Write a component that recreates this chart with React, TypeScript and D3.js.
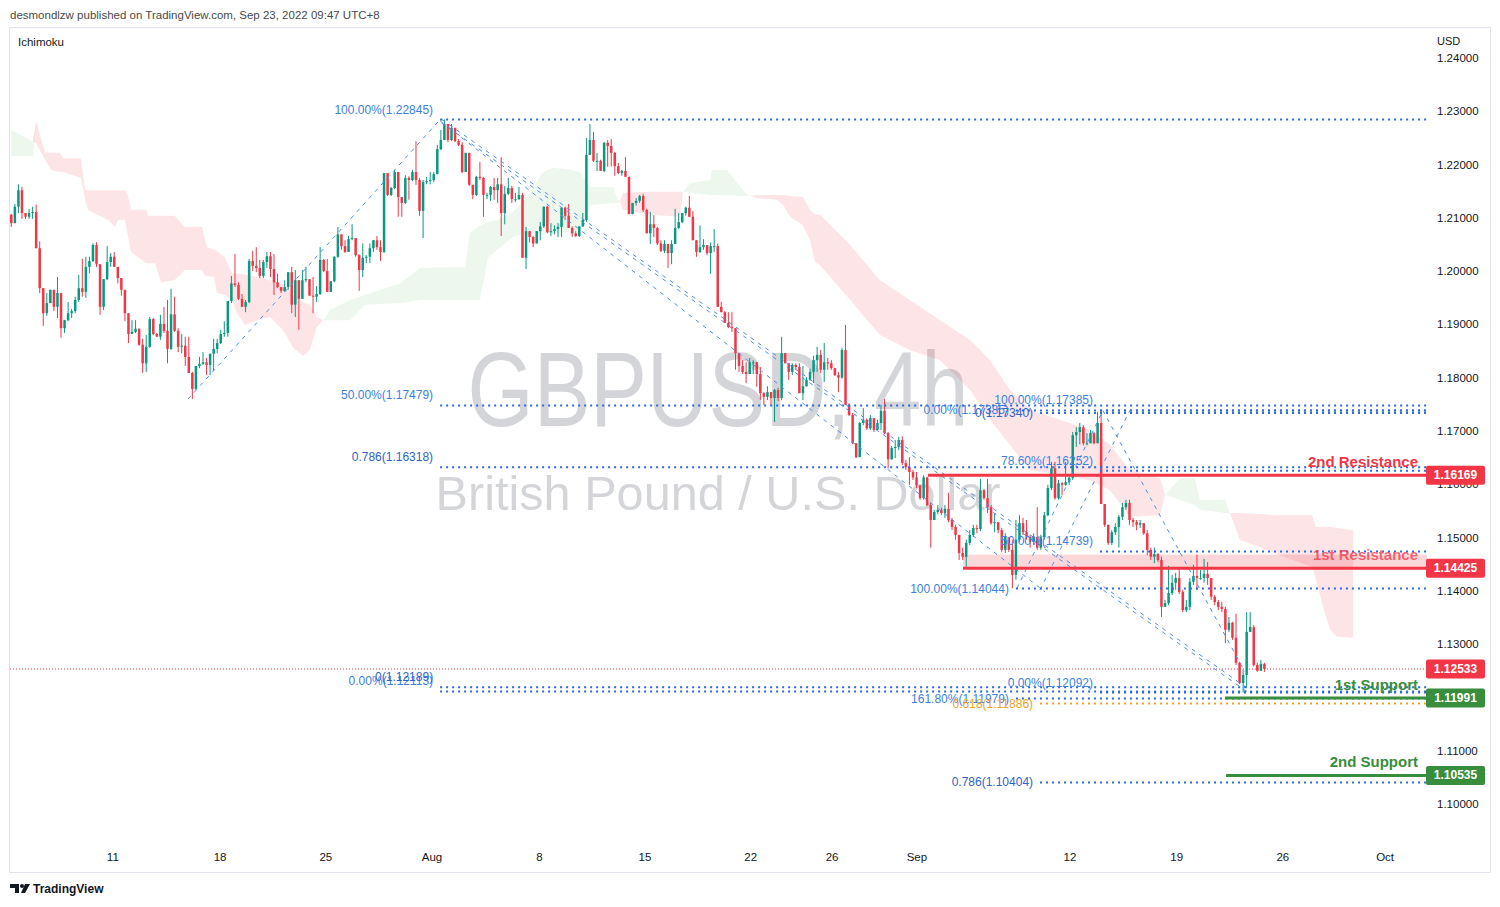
import React from "react";
import * as d3 from "d3";

// ---------- DATA (GBPUSD 4h) ----------
const firstOpen = 1.2106;
const closes = [
  1.2090, 1.2121, 1.2152, 1.2109, 1.2102, 1.2109, 1.2111, 1.2043, 1.1968, 1.1921,
  1.1940, 1.1965, 1.1933, 1.1959, 1.1893, 1.1908, 1.1921, 1.1925, 1.1946, 1.1968,
  1.1961, 1.2008, 1.2019, 1.2049, 1.2013, 1.1933, 1.1985, 1.2017, 1.2027, 1.2008,
  1.1987, 1.1965, 1.1921, 1.1882, 1.1886, 1.1892, 1.1862, 1.1827, 1.1858, 1.1910,
  1.1882, 1.1877, 1.1901, 1.1888, 1.1854, 1.1919, 1.1888, 1.1858, 1.1860, 1.1839,
  1.1809, 1.1779, 1.1822, 1.1826, 1.1829, 1.1824, 1.1845, 1.1854, 1.1865, 1.1882,
  1.1884, 1.1944, 1.1977, 1.1974, 1.1948, 1.1933, 1.1942, 1.2019, 1.2010, 1.2006,
  1.1991, 1.2017, 1.2028, 1.2004, 1.1979, 1.1970, 1.1963, 1.1970, 1.1998, 1.1937,
  1.1983, 1.1948, 1.1983, 1.1985, 1.1954, 1.1952, 1.1957, 1.2021, 1.2000, 1.1961,
  1.1981, 1.2027, 1.2069, 1.2047, 1.2036, 1.2060, 1.2062, 1.2030, 1.2002, 1.2025,
  1.2027, 1.2043, 1.2058, 1.2045, 1.2036, 1.2184, 1.2143, 1.2156, 1.2186, 1.2139,
  1.2128, 1.2175, 1.2171, 1.2186, 1.2171, 1.2113, 1.2167, 1.2169, 1.2171, 1.2182,
  1.2229, 1.2246, 1.2276, 1.2246, 1.2269, 1.2244, 1.2237, 1.2186, 1.2222, 1.2162,
  1.2143, 1.2177, 1.2175, 1.2143, 1.2143, 1.2158, 1.2152, 1.2163, 1.2109, 1.2145,
  1.2156, 1.2135, 1.2135, 1.2143, 1.2025, 1.2075, 1.2064, 1.2052, 1.2075, 1.2084,
  1.2121, 1.2073, 1.2075, 1.2079, 1.2083, 1.2119, 1.2104, 1.2081, 1.2071, 1.2066,
  1.2084, 1.2096, 1.2218, 1.2246, 1.2207, 1.2207, 1.2188, 1.2241, 1.2235, 1.2222,
  1.2197, 1.2184, 1.2188, 1.2177, 1.2107, 1.2128, 1.2132, 1.2141, 1.2115, 1.2071,
  1.2088, 1.2081, 1.2052, 1.2038, 1.2051, 1.2034, 1.2051, 1.2081, 1.2092, 1.2109,
  1.2119, 1.2102, 1.2058, 1.2036, 1.2045, 1.2049, 1.2034, 1.2047, 1.2047, 1.1933,
  1.1923, 1.1903, 1.1895, 1.1893, 1.1846, 1.1822, 1.1811, 1.1807, 1.1829, 1.1829,
  1.1807, 1.1771, 1.1764, 1.1773, 1.1762, 1.1777, 1.1762, 1.1846, 1.1827, 1.1811,
  1.1824, 1.1820, 1.1771, 1.1784, 1.1796, 1.1811, 1.1833, 1.1843, 1.1815, 1.1829,
  1.1827, 1.1818, 1.1805, 1.1800, 1.1852, 1.1749, 1.1730, 1.1677, 1.1651, 1.1715,
  1.1721, 1.1705, 1.1724, 1.1702, 1.1715, 1.1738, 1.1696, 1.1647, 1.1668, 1.1670,
  1.1683, 1.1640, 1.1632, 1.1623, 1.1613, 1.1598, 1.1574, 1.1613, 1.1561, 1.1533,
  1.1548, 1.1552, 1.1546, 1.1554, 1.1533, 1.1520, 1.1505, 1.1471, 1.1464, 1.1490,
  1.1505, 1.1518, 1.1516, 1.1589, 1.1574, 1.1557, 1.1527, 1.1529, 1.1514, 1.1477,
  1.1501, 1.1477, 1.1430, 1.1496, 1.1527, 1.1510, 1.1501, 1.1492, 1.1501, 1.1481,
  1.1501, 1.1542, 1.1593, 1.1630, 1.1574, 1.1602, 1.1599, 1.1604, 1.1612, 1.1692,
  1.1698, 1.1707, 1.1677, 1.1677, 1.1696, 1.1677, 1.1715, 1.1563, 1.1524, 1.1490,
  1.1510, 1.1520, 1.1539, 1.1557, 1.1565, 1.1533, 1.1529, 1.1524, 1.1527, 1.1508,
  1.1477, 1.1464, 1.1469, 1.1458, 1.1370, 1.1377, 1.1396, 1.1415, 1.1424, 1.1398,
  1.1364, 1.1370, 1.1417, 1.1428, 1.1424, 1.1424, 1.1432, 1.1424, 1.1389, 1.1379,
  1.1370, 1.1366, 1.1327, 1.1340, 1.1312, 1.1265, 1.1227, 1.1242, 1.1323, 1.1332,
  1.1261, 1.1250, 1.1263, 1.12533,
];
const highs = [
  1.2107, 1.2126, 1.2163, 1.2158, 1.2109, 1.2117, 1.2121, 1.2125, 1.2056, 1.1968,
  1.1959, 1.1965, 1.1965, 1.1989, 1.1959, 1.1908, 1.1942, 1.1929, 1.1952, 1.1993,
  1.2023, 1.2027, 1.2027, 1.2052, 1.2054, 1.2013, 1.1985, 1.2047, 1.2034, 1.2036,
  1.2008, 1.1987, 1.1965, 1.1921, 1.1908, 1.1908, 1.1892, 1.1873, 1.1880, 1.1914,
  1.1912, 1.1884, 1.1918, 1.1933, 1.1946, 1.1967, 1.1952, 1.1893, 1.1882, 1.1877,
  1.1877, 1.1811, 1.1822, 1.1839, 1.1848, 1.1837, 1.1845, 1.1873, 1.1873, 1.1890,
  1.1906, 1.1944, 1.1991, 1.2032, 1.1979, 1.1957, 1.1946, 1.2023, 1.2038, 1.2045,
  1.2021, 1.2021, 1.2036, 1.2036, 1.2032, 1.1995, 1.1970, 1.1983, 1.1998, 1.2008,
  1.2002, 1.1983, 1.2002, 1.2008, 1.1985, 1.1989, 1.1972, 1.2045, 1.2023, 1.2023,
  1.1981, 1.2028, 1.2083, 1.2069, 1.2058, 1.2066, 1.2088, 1.2062, 1.2032, 1.2052,
  1.2030, 1.2052, 1.2058, 1.2066, 1.2058, 1.2184, 1.2184, 1.2158, 1.2190, 1.2186,
  1.2139, 1.2180, 1.2178, 1.2190, 1.2244, 1.2175, 1.2171, 1.2177, 1.2186, 1.2186,
  1.2237, 1.2265, 1.22845, 1.2276, 1.2276, 1.2269, 1.2248, 1.2242, 1.2222, 1.2222,
  1.2162, 1.2179, 1.2205, 1.2177, 1.2147, 1.2160, 1.2175, 1.2175, 1.2214, 1.2160,
  1.2175, 1.2160, 1.2147, 1.2158, 1.2147, 1.2083, 1.2075, 1.2066, 1.2075, 1.2092,
  1.2121, 1.2123, 1.2090, 1.2086, 1.2090, 1.2119, 1.2121, 1.2126, 1.2084, 1.2075,
  1.2084, 1.2109, 1.2250, 1.2276, 1.2261, 1.2222, 1.2209, 1.2242, 1.2246, 1.2248,
  1.2224, 1.2203, 1.2190, 1.2214, 1.2177, 1.2128, 1.2137, 1.2143, 1.2145, 1.2117,
  1.2111, 1.2105, 1.2083, 1.2058, 1.2058, 1.2051, 1.2058, 1.2117, 1.2109, 1.2109,
  1.2121, 1.2141, 1.2113, 1.2058, 1.2086, 1.2060, 1.2047, 1.2054, 1.2079, 1.2052,
  1.1942, 1.1925, 1.1923, 1.1923, 1.1893, 1.1846, 1.1833, 1.1829, 1.1837, 1.1833,
  1.1820, 1.1820, 1.1773, 1.1784, 1.1773, 1.1779, 1.1781, 1.1877, 1.1846, 1.1827,
  1.1827, 1.1827, 1.1827, 1.1822, 1.1801, 1.1817, 1.1841, 1.1858, 1.1852, 1.1865,
  1.1837, 1.1833, 1.1818, 1.1811, 1.1856, 1.1899, 1.1752, 1.1734, 1.1677, 1.1717,
  1.1743, 1.1724, 1.1730, 1.1721, 1.1721, 1.1749, 1.1760, 1.1698, 1.1672, 1.1683,
  1.1689, 1.1690, 1.1646, 1.1651, 1.1627, 1.1623, 1.1589, 1.1617, 1.1598, 1.1565,
  1.1552, 1.1561, 1.1556, 1.1561, 1.1584, 1.1537, 1.1524, 1.1496, 1.1481, 1.1496,
  1.1514, 1.1524, 1.1524, 1.1610, 1.1591, 1.1610, 1.1561, 1.1546, 1.1529, 1.1518,
  1.1508, 1.1501, 1.1496, 1.1533, 1.1542, 1.1537, 1.1533, 1.1505, 1.1508, 1.1557,
  1.1505, 1.1548, 1.1599, 1.1642, 1.1642, 1.1608, 1.1604, 1.1642, 1.1617, 1.1698,
  1.1707, 1.1715, 1.1711, 1.1696, 1.1702, 1.1698, 1.1736, 1.17385, 1.1559, 1.1524,
  1.1514, 1.1527, 1.1542, 1.1565, 1.1571, 1.1571, 1.1537, 1.1533, 1.1533, 1.1527,
  1.1514, 1.1481, 1.1481, 1.1471, 1.1464, 1.1383, 1.1447, 1.1430, 1.1434, 1.1445,
  1.1402, 1.1383, 1.1424, 1.1449, 1.1468, 1.1439, 1.1460, 1.1454, 1.1415, 1.1392,
  1.1383, 1.1379, 1.1370, 1.1351, 1.1342, 1.1357, 1.1267, 1.1252, 1.1360, 1.1360,
  1.1336, 1.1265, 1.1270, 1.1265,
];
const lows = [
  1.2083, 1.2090, 1.2109, 1.2098, 1.2098, 1.2098, 1.2098, 1.2043, 1.1959, 1.1897,
  1.1916, 1.1940, 1.1925, 1.1912, 1.1875, 1.1884, 1.1906, 1.1912, 1.1921, 1.1942,
  1.1952, 1.1950, 1.1996, 1.2017, 1.2008, 1.1918, 1.1927, 1.1983, 1.2008, 1.2008,
  1.1977, 1.1954, 1.1906, 1.1865, 1.1882, 1.1884, 1.1860, 1.1809, 1.1811, 1.1856,
  1.1880, 1.1877, 1.1871, 1.1884, 1.1827, 1.1852, 1.1886, 1.1848, 1.1846, 1.1822,
  1.1809, 1.1760, 1.1777, 1.1818, 1.1824, 1.1805, 1.1805, 1.1813, 1.1846, 1.1863,
  1.1877, 1.1877, 1.1940, 1.1970, 1.1946, 1.1933, 1.1923, 1.1940, 1.2000, 1.1998,
  1.1987, 1.1987, 1.2006, 1.1989, 1.1955, 1.1968, 1.1959, 1.1961, 1.1965, 1.1921,
  1.1914, 1.1890, 1.1948, 1.1979, 1.1954, 1.1921, 1.1942, 1.1955, 1.1998, 1.1961,
  1.1961, 1.1979, 1.2025, 1.2040, 1.2034, 1.2045, 1.2058, 1.2027, 1.1963, 1.1989,
  1.2015, 1.2015, 1.2036, 1.2040, 1.2019, 1.2034, 1.2141, 1.2141, 1.2154, 1.2102,
  1.2102, 1.2126, 1.2134, 1.2169, 1.2162, 1.2104, 1.2062, 1.2163, 1.2163, 1.2167,
  1.2182, 1.2227, 1.2246, 1.2242, 1.2244, 1.2242, 1.2235, 1.2184, 1.2186, 1.2160,
  1.2135, 1.2141, 1.2171, 1.2102, 1.2135, 1.2132, 1.2134, 1.2128, 1.2066, 1.2088,
  1.2143, 1.2128, 1.2130, 1.2134, 1.2025, 1.2004, 1.2054, 1.2045, 1.2052, 1.2058,
  1.2081, 1.2071, 1.2066, 1.2069, 1.2064, 1.2064, 1.2096, 1.2081, 1.2064, 1.2064,
  1.2064, 1.2083, 1.2092, 1.2218, 1.2205, 1.2188, 1.2188, 1.2186, 1.2196, 1.2196,
  1.2179, 1.2182, 1.2179, 1.2177, 1.2107, 1.2107, 1.2123, 1.2128, 1.2111, 1.2071,
  1.2051, 1.2064, 1.2049, 1.2036, 1.2034, 1.2006, 1.2013, 1.2051, 1.2079, 1.2090,
  1.2104, 1.2102, 1.2058, 1.2027, 1.2034, 1.2040, 1.2030, 1.1995, 1.2036, 1.1933,
  1.1923, 1.1903, 1.1893, 1.1886, 1.1815, 1.1811, 1.1807, 1.1790, 1.1807, 1.1807,
  1.1783, 1.1758, 1.1749, 1.1758, 1.1749, 1.1717, 1.1756, 1.1758, 1.1827, 1.1796,
  1.1805, 1.1815, 1.1771, 1.1758, 1.1783, 1.1794, 1.1790, 1.1811, 1.1809, 1.1792,
  1.1815, 1.1815, 1.1803, 1.1773, 1.1798, 1.1749, 1.1728, 1.1675, 1.1649, 1.1656,
  1.1711, 1.1702, 1.1702, 1.1698, 1.1702, 1.1702, 1.1694, 1.1630, 1.1646, 1.1649,
  1.1664, 1.1636, 1.1627, 1.1599, 1.1608, 1.1593, 1.1571, 1.1571, 1.1559, 1.1481,
  1.1533, 1.1544, 1.1542, 1.1537, 1.1529, 1.1514, 1.1496, 1.1458, 1.1458, 1.1445,
  1.1486, 1.1501, 1.1508, 1.1512, 1.1571, 1.1546, 1.1524, 1.1510, 1.1508, 1.1473,
  1.1471, 1.1473, 1.1405, 1.1421, 1.1492, 1.1505, 1.1496, 1.1481, 1.1486, 1.1477,
  1.1477, 1.1496, 1.1540, 1.1589, 1.1571, 1.1571, 1.1580, 1.1597, 1.1599, 1.1608,
  1.1670, 1.1675, 1.1673, 1.1673, 1.1677, 1.1675, 1.1677, 1.1563, 1.1520, 1.1486,
  1.1486, 1.1505, 1.1481, 1.1533, 1.1552, 1.1524, 1.1520, 1.1514, 1.1518, 1.1505,
  1.1467, 1.1458, 1.1452, 1.1454, 1.1351, 1.1370, 1.1373, 1.1392, 1.1402, 1.1394,
  1.1360, 1.1360, 1.1364, 1.1411, 1.1402, 1.1421, 1.1415, 1.1411, 1.1383, 1.1373,
  1.1364, 1.1360, 1.1302, 1.1323, 1.1308, 1.1261, 1.1225, 1.12092, 1.1218, 1.1323,
  1.1258, 1.1248, 1.1250, 1.1248,
];

// Ichimoku cloud (Senkou span A / B), sampled at bar indices
const cloudIdx = [
  0, 6.1, 7.0, 9.5, 11.2, 13.7, 14.6, 19.6, 20.8, 21.6, 25.3, 27.3, 29.2, 30.1, 32.0, 32.9, 33.7,
  38.0, 38.5, 40.5, 42.2, 46.0, 48.9, 53.7, 54.3, 55.1, 57.1, 57.9, 60.2, 62.2, 63.6, 65.8, 69.2,
  72.9, 75.7, 77.1, 79.4, 82.2, 84.1, 86.1, 87.8, 89.8, 95.4, 99.6, 109.5, 115.1, 127.8, 129.2,
  132.0, 134.3, 136.8, 141.3, 145.3, 149.8, 152.6, 158.2, 160.2, 163.0, 169.5, 170.9, 171.5, 172.3,
  179.9, 188.4, 189.2, 191.2, 196.8, 197.4, 201.6, 206.7, 208.1, 210.1, 215.7, 217.4, 219.4, 223.0,
  225.0, 226.4, 227.8, 236.3, 244.7, 253.1, 261.6, 270.1, 275.7, 281.3, 286.9, 295.4, 303.8, 309.5,
  315.1, 323.6, 325.0, 329.2, 333.4, 334.8, 341.9, 343.3, 346.1, 357.4, 366.4, 367.5, 369.5, 371.5,
  373.4, 378.0,
];
const spanA = [
  1.2265, 1.2244, 1.2240, 1.2209, 1.2190, 1.2186, 1.2186, 1.2175, 1.2134, 1.2115, 1.2102, 1.2096,
  1.2083, 1.2096, 1.2096, 1.2064, 1.2036, 1.2015, 1.2015, 1.2015, 1.1979, 1.1983, 1.2002, 1.2002,
  1.1993, 1.1991, 1.1989, 1.1959, 1.1955, 1.1946, 1.1921, 1.1899, 1.1908, 1.1914, 1.1895, 1.1884,
  1.1856, 1.1841, 1.1852, 1.1895, 1.1908, 1.1927, 1.1946, 1.1955, 1.1977, 1.2006, 1.2008, 1.2071,
  1.2086, 1.2092, 1.2096, 1.2111, 1.2139, 1.2186, 1.2194, 1.2190, 1.2186, 1.2158, 1.2158, 1.2134,
  1.2130, 1.2115, 1.2106, 1.2102, 1.2149, 1.2165, 1.2171, 1.2190, 1.2190, 1.2147, 1.2141, 1.2137,
  1.2134, 1.2124, 1.2102, 1.2086, 1.2058, 1.2017, 1.2011, 1.1946, 1.1880, 1.1852, 1.1833, 1.1777,
  1.1721, 1.1674, 1.1627, 1.1618, 1.1608, 1.1589, 1.1539, 1.1542, 1.1580, 1.1612, 1.1612, 1.1571,
  1.1571, 1.1546, 1.1496, 1.1467, 1.1445, 1.1421, 1.1370, 1.1327, 1.1314, 1.1312,
];
const spanB = [
  1.2216, 1.2216, 1.2282, 1.2223, 1.2222, 1.2222, 1.2212, 1.2212, 1.2152, 1.2152, 1.2152, 1.2152,
  1.2152, 1.2152, 1.2152, 1.2141, 1.2115, 1.2115, 1.2104, 1.2104, 1.2104, 1.2104, 1.2083, 1.2083,
  1.2068, 1.2045, 1.2040, 1.2038, 1.2025, 1.1996, 1.1995, 1.1993, 1.1989, 1.1983, 1.1979, 1.1974,
  1.1955, 1.1942, 1.1937, 1.1914, 1.1908, 1.1908, 1.1908, 1.1937, 1.1940, 1.1946, 1.1946, 1.1946,
  1.1946, 1.2025, 1.2040, 1.2064, 1.2071, 1.2071, 1.2071, 1.2073, 1.2077, 1.2124, 1.2128, 1.2128,
  1.2130, 1.2147, 1.2149, 1.2149, 1.2149, 1.2147, 1.2143, 1.2143, 1.2143, 1.2141, 1.2141, 1.2143,
  1.2143, 1.2143, 1.2141, 1.2139, 1.2115, 1.2106, 1.2106, 1.2049, 1.1983, 1.1946, 1.1908, 1.1871,
  1.1833, 1.1777, 1.1740, 1.1721, 1.1702, 1.1674, 1.1627, 1.1612, 1.1580, 1.1571, 1.1561, 1.1552,
  1.1546, 1.1546, 1.1546, 1.1542, 1.1542, 1.1520, 1.1520, 1.1520, 1.1518, 1.1514,
];

// Fibonacci drawings: anchor bar index, level price, label, tool id
const fibStartIdx = [120.8, 120.8, 120.8, 120.8, 120.8, 283.0, 283.0, 283.0, 306.7, 306.7, 306.7, 306.7, 289.8, 289.8, 289.8];
const fibPrices = [1.22845, 1.17479, 1.12113, 1.16318, 1.12189, 1.17385, 1.14044, 1.11979, 1.17385, 1.16252, 1.14739, 1.12092, 1.1734, 1.11886, 1.10404];
const fibLabels = [
  "100.00%(1.22845)", "50.00%(1.17479)", "0.00%(1.12113)", "0.786(1.16318)", "0(1.12189)",
  "0.00%(1.17385)", "100.00%(1.14044)", "161.80%(1.11979)",
  "100.00%(1.17385)", "78.60%(1.16252)", "50.00%(1.14739)", "0.00%(1.12092)",
  "0(1.17340)", "0.618(1.11886)", "0.786(1.10404)",
];
const fibTool = [0, 0, 0, 1, 1, 2, 2, 2, 3, 3, 3, 3, 4, 4, 4];

// Dashed trend lines (bar index / price anchors)
const trendStartIdx = [49.8, 121.3, 121.3, 120.8, 283.3, 289.8, 307.5];
const trendStartPrice = [1.176, 1.22845, 1.2278, 1.2282, 1.1405, 1.1402, 1.17385];
const trendEndIdx = [120.8, 348.9, 348.9, 291.2, 307.5, 315.1, 347.5];
const trendEndPrice = [1.22845, 1.1214, 1.1207, 1.1398, 1.17385, 1.17385, 1.1248];

// Support / resistance
const levelNames = ["2nd Resistance", "1st Resistance", "1st Support", "2nd Support"];
const levelPrices = [1.16169, 1.14425, 1.11991, 1.10535];
const levelStartIdx = [258.2, 268.1, 341.9, 342.2];
const levelKind = ["res", "res", "sup", "sup"];
const resZoneTop = 1.1468;
const lastPrice = 1.12533;

const priceTicks = [1.24, 1.23, 1.22, 1.21, 1.2, 1.19, 1.18, 1.17, 1.16, 1.15, 1.14, 1.13, 1.12, 1.11, 1.1];
const dateTickIdx = [28.6, 58.8, 88.6, 118.5, 148.8, 178.5, 208.3, 231.2, 255.1, 298.2, 328.3, 358.2, 387.0];
const dateTickLabels = ["11", "18", "25", "Aug", "8", "15", "22", "26", "Sep", "12", "19", "26", "Oct"];

// ---------- COMPONENT ----------
const FONT = "'Liberation Sans', Arial, sans-serif";
const UP = "#089981";
const DOWN = "#f23645";
const RED = "#f23645";
const GREEN = "#388e3c";

export default function App() {
  const x = d3.scaleLinear().domain([-0.37, 398.8]).range([10, 1427]);
  const y = d3.scaleLinear().domain([1.1, 1.24]).range([804, 58]);
  const opens = closes.map((c, i) => (i === 0 ? firstOpen : closes[i - 1]));
  const bw = 2.5;

  const cloud = cloudIdx.map((d, i) => ({ i: d, a: spanA[i], b: spanB[i] }));
  const greenArea = d3
    .area<any>()
    .x((d) => x(d.i))
    .y0((d) => y(d.b))
    .y1((d) => y(Math.max(d.a, d.b)));
  const redArea = d3
    .area<any>()
    .x((d) => x(d.i))
    .y0((d) => y(d.a))
    .y1((d) => y(Math.max(d.a, d.b)));

  const labelAbove = [true, true, false, true, false];
  const fibLabelColor = ["#3b82e0", "#2f64c8", "#3b82e0", "#3b82e0", "#2f64c8"];
  const xEnd = 1427;

  const tags = [
    { p: levelPrices[0], c: RED },
    { p: levelPrices[1], c: RED },
    { p: lastPrice, c: RED },
    { p: levelPrices[2], c: GREEN },
    { p: levelPrices[3], c: GREEN },
  ];

  return (
    <svg
      width={1500}
      height={907}
      style={{ position: "absolute", left: 0, top: 0, background: "#fff" }}
      fontFamily={FONT}
    >
      <rect x={0} y={0} width={1500} height={907} fill="#fff" />
      <text x={10} y={19} fontSize={11.5} fill="#4a4a4a">
        desmondlzw published on TradingView.com, Sep 23, 2022 09:47 UTC+8
      </text>
      <rect x={9.5} y={27.5} width={1481} height={845} fill="none" stroke="#e0e3eb" />

      <defs>
        <clipPath id="plot">
          <rect x={10} y={28} width={1417} height={816} />
        </clipPath>
      </defs>

      {/* watermark */}
      <text
        x={718}
        y={426}
        fontSize={105}
        textAnchor="middle"
        textLength={501}
        lengthAdjust="spacingAndGlyphs"
        fill="#787b86"
        fillOpacity={0.32}
      >
        GBPUSD, 4h
      </text>
      <text
        x={718}
        y={510}
        fontSize={49}
        textAnchor="middle"
        textLength={565}
        lengthAdjust="spacingAndGlyphs"
        fill="#787b86"
        fillOpacity={0.32}
      >
        British Pound / U.S. Dollar
      </text>

      <g clipPath="url(#plot)">
        {/* cloud */}
        <path d={greenArea(cloud) || ""} fill="#4caf50" fillOpacity={0.1} />
        <path d={redArea(cloud) || ""} fill="#f23645" fillOpacity={0.13} />

        {/* current price line */}
        <line x1={10} x2={xEnd} y1={y(lastPrice)} y2={y(lastPrice)} stroke={RED} strokeWidth={1} strokeDasharray="1 2" />

        {/* resistance zone */}
        <rect
          x={x(levelStartIdx[1])}
          y={y(resZoneTop)}
          width={xEnd - x(levelStartIdx[1])}
          height={y(levelPrices[1]) - y(resZoneTop)}
          fill={RED}
          fillOpacity={0.2}
        />

        {/* candles */}
        {closes.map((c, i) => {
          const o = opens[i];
          const col = c >= o ? UP : DOWN;
          const cx = x(i);
          const top = y(Math.max(o, c));
          const bot = y(Math.min(o, c));
          return (
            <g key={i}>
              <line
                x1={cx}
                x2={cx}
                y1={y(Math.max(highs[i], o, c))}
                y2={y(Math.min(lows[i], o, c))}
                stroke={col}
                strokeWidth={1}
              />
              <rect x={cx - bw / 2} y={top} width={bw} height={Math.max(1, bot - top)} fill={col} />
            </g>
          );
        })}

        {/* dashed trend lines */}
        {trendStartIdx.map((s, k) => (
          <line
            key={"t" + k}
            x1={x(s)}
            y1={y(trendStartPrice[k])}
            x2={x(trendEndIdx[k])}
            y2={y(trendEndPrice[k])}
            stroke="#4f8fe6"
            strokeWidth={1}
            strokeDasharray="4 5"
          />
        ))}

        {/* fib level lines */}
        {fibPrices.map((p, k) => {
          const orange = fibLabels[k].startsWith("0.618");
          return (
            <line
              key={"f" + k}
              x1={x(fibStartIdx[k])}
              x2={xEnd}
              y1={y(p)}
              y2={y(p)}
              stroke={orange ? "#f0a21e" : "#2a6ad8"}
              strokeWidth={2}
              strokeDasharray="2 4"
            />
          );
        })}

        {/* support/resistance lines */}
        {levelPrices.map((p, k) => (
          <line
            key={"l" + k}
            x1={x(levelStartIdx[k])}
            x2={xEnd}
            y1={y(p)}
            y2={y(p)}
            stroke={levelKind[k] === "res" ? RED : GREEN}
            strokeWidth={3}
          />
        ))}
      </g>

      {/* fib labels */}
      {fibPrices.map((p, k) => {
        const t = fibTool[k];
        const orange = fibLabels[k].startsWith("0.618");
        const ly = labelAbove[t] ? y(p) - 6 : y(p) + 4;
        return (
          <text
            key={"fl" + k}
            x={x(fibStartIdx[k]) - 7}
            y={ly}
            fontSize={12}
            textAnchor="end"
            fill={orange ? "#f0a21e" : fibLabelColor[t]}
          >
            {fibLabels[k]}
          </text>
        );
      })}

      {/* level names */}
      {levelPrices.map((p, k) => (
        <text
          key={"ln" + k}
          x={1418}
          y={y(p) - 8}
          fontSize={15}
          fontWeight="bold"
          textAnchor="end"
          fill={levelKind[k] === "res" ? RED : GREEN}
          fillOpacity={k === 1 ? 0.75 : 1}
        >
          {levelNames[k]}
        </text>
      ))}

      <text x={18} y={46} fontSize={11.5} fill="#131722">
        Ichimoku
      </text>
      <text x={1437} y={45} fontSize={11} fill="#131722">
        USD
      </text>

      {/* price axis */}
      {priceTicks.map((p) => (
        <text key={"p" + p} x={1437} y={y(p) + 4} fontSize={11.5} fill="#131722">
          {p.toFixed(5)}
        </text>
      ))}
      {tags.map((t, k) => (
        <g key={"tag" + k}>
          <rect x={1426} y={y(t.p) - 9.5} width={59} height={19} rx={2} fill={t.c} />
          <text
            x={1455.5}
            y={y(t.p) + 4}
            fontSize={12}
            fontWeight="bold"
            textAnchor="middle"
            fill="#fff"
          >
            {t.p.toFixed(5)}
          </text>
        </g>
      ))}

      {/* time axis */}
      {dateTickIdx.map((d, k) => (
        <text key={"d" + k} x={x(d)} y={861} fontSize={11.5} textAnchor="middle" fill="#131722">
          {dateTickLabels[k]}
        </text>
      ))}

      {/* TradingView logo */}
      <g fill="#131722">
        <path d="M10 884 h9 v9 h-4 v-5 h-5 z" />
        <circle cx={22} cy={886} r={2} />
        <path d="M25 884 h5 l-5 9 h-4 z" />
      </g>
      <text x={33} y={893} fontSize={12} fontWeight="bold" fill="#131722">
        TradingView
      </text>
    </svg>
  );
}
